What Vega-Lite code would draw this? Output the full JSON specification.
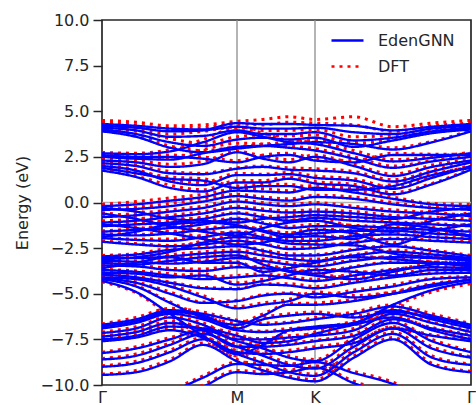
{
"$schema":"https://vega.github.io/schema/vega-lite/v6.json",
"autosize":"none","width":369,"height":365,
"padding":{"left":102,"top":20,"right":5,"bottom":20},
"background":"white",
"config":{"font":"DejaVu Sans","view":{"stroke":"#262626","strokeWidth":1.7},
"axis":{"labelFontSize":16,"titleFontSize":16,"labelColor":"#262626","titleColor":"#262626","titleFontWeight":"normal","grid":false,"domain":false,"labelFont":"DejaVu Sans","titleFont":"DejaVu Sans"},
"legend":{"labelFont":"DejaVu Sans"}},
"data":{"values":[
{"b":"T1","k":0,"g":4.3,"d":4.5},{"b":"T1","k":34,"g":4.2,"d":4.4},{"b":"T1","k":68,"g":4.05,"d":4.2},{"b":"T1","k":101,"g":4.0,"d":4.25},{"b":"T1","k":135,"g":4.35,"d":4.45},{"b":"T1","k":161,"g":4.3,"d":4.55},{"b":"T1","k":187,"g":4.3,"d":4.7},{"b":"T1","k":213,"g":4.25,"d":4.55},{"b":"T1","k":252,"g":4.2,"d":4.7},{"b":"T1","k":291,"g":3.95,"d":4.15},{"b":"T1","k":330,"g":4.15,"d":4.35},{"b":"T1","k":369,"g":4.3,"d":4.5},
{"b":"T2","k":0,"g":4.2,"d":4.4},{"b":"T2","k":34,"g":4.1,"d":4.25},{"b":"T2","k":68,"g":3.9,"d":4.05},{"b":"T2","k":101,"g":3.95,"d":4.1},{"b":"T2","k":135,"g":4.15,"d":4.3},{"b":"T2","k":161,"g":4.05,"d":4.25},{"b":"T2","k":187,"g":4.05,"d":4.4},{"b":"T2","k":213,"g":4.1,"d":4.35},{"b":"T2","k":252,"g":3.85,"d":4.25},{"b":"T2","k":291,"g":3.75,"d":3.9},{"b":"T2","k":330,"g":4.05,"d":4.2},{"b":"T2","k":369,"g":4.2,"d":4.35},
{"b":"T3","k":0,"g":4.1,"d":4.25},{"b":"T3","k":34,"g":3.95,"d":4.05},{"b":"T3","k":68,"g":3.6,"d":3.75},{"b":"T3","k":101,"g":3.65,"d":3.9},{"b":"T3","k":135,"g":3.95,"d":4.15},{"b":"T3","k":161,"g":3.75,"d":3.95},{"b":"T3","k":187,"g":3.75,"d":3.95},{"b":"T3","k":213,"g":3.85,"d":4.0},{"b":"T3","k":252,"g":3.4,"d":3.6},{"b":"T3","k":291,"g":3.55,"d":3.7},{"b":"T3","k":330,"g":3.9,"d":4.0},{"b":"T3","k":369,"g":4.1,"d":4.2},
{"b":"T4","k":0,"g":4.0,"d":4.05},{"b":"T4","k":34,"g":3.75,"d":3.9},{"b":"T4","k":68,"g":3.3,"d":3.5},{"b":"T4","k":101,"g":3.1,"d":3.25},{"b":"T4","k":135,"g":3.45,"d":3.6},{"b":"T4","k":161,"g":3.55,"d":3.7},{"b":"T4","k":187,"g":3.45,"d":3.65},{"b":"T4","k":213,"g":3.55,"d":3.7},{"b":"T4","k":252,"g":3.05,"d":3.25},{"b":"T4","k":291,"g":3.4,"d":3.45},{"b":"T4","k":330,"g":3.8,"d":3.85},{"b":"T4","k":369,"g":4.0,"d":4.05},
{"b":"C5","k":0,"g":3.9,"d":3.95},{"b":"C5","k":34,"g":3.6,"d":3.7},{"b":"C5","k":68,"g":3.0,"d":3.1},{"b":"C5","k":101,"g":2.75,"d":2.85},{"b":"C5","k":135,"g":2.95,"d":3.05},{"b":"C5","k":161,"g":3.1,"d":3.2},{"b":"C5","k":187,"g":3.2,"d":3.3},{"b":"C5","k":213,"g":3.3,"d":3.4},{"b":"C5","k":252,"g":3.2,"d":3.3},{"b":"C5","k":291,"g":2.9,"d":3.0},{"b":"C5","k":330,"g":3.3,"d":3.35},{"b":"C5","k":369,"g":3.9,"d":3.95},
{"b":"S1","k":0,"g":2.7,"d":2.75},{"b":"S1","k":34,"g":2.65,"d":2.7},{"b":"S1","k":68,"g":2.8,"d":2.9},{"b":"S1","k":101,"g":3.3,"d":3.45},{"b":"S1","k":135,"g":3.85,"d":4.1},{"b":"S1","k":161,"g":3.6,"d":3.8},{"b":"S1","k":187,"g":3.3,"d":3.4},{"b":"S1","k":213,"g":3.2,"d":3.3},{"b":"S1","k":252,"g":2.7,"d":2.85},{"b":"S1","k":291,"g":2.25,"d":2.35},{"b":"S1","k":330,"g":2.45,"d":2.5},{"b":"S1","k":369,"g":2.7,"d":2.75},
{"b":"S7","k":0,"g":2.6,"d":2.65},{"b":"S7","k":34,"g":2.5,"d":2.55},{"b":"S7","k":68,"g":2.5,"d":2.6},{"b":"S7","k":101,"g":2.4,"d":2.5},{"b":"S7","k":135,"g":2.2,"d":2.3},{"b":"S7","k":161,"g":2.5,"d":2.6},{"b":"S7","k":187,"g":2.6,"d":2.7},{"b":"S7","k":213,"g":2.3,"d":2.4},{"b":"S7","k":252,"g":2.2,"d":2.3},{"b":"S7","k":291,"g":2.6,"d":2.7},{"b":"S7","k":330,"g":2.6,"d":2.65},{"b":"S7","k":369,"g":2.6,"d":2.65},
{"b":"S2","k":0,"g":2.5,"d":2.55},{"b":"S2","k":34,"g":2.4,"d":2.45},{"b":"S2","k":68,"g":2.35,"d":2.45},{"b":"S2","k":101,"g":2.7,"d":2.9},{"b":"S2","k":135,"g":3.05,"d":3.25},{"b":"S2","k":161,"g":3.1,"d":3.2},{"b":"S2","k":187,"g":3.0,"d":3.1},{"b":"S2","k":213,"g":2.85,"d":2.95},{"b":"S2","k":252,"g":2.4,"d":2.5},{"b":"S2","k":291,"g":1.9,"d":2.0},{"b":"S2","k":330,"g":2.25,"d":2.3},{"b":"S2","k":369,"g":2.5,"d":2.55},
{"b":"S3","k":0,"g":2.3,"d":2.4},{"b":"S3","k":34,"g":2.2,"d":2.3},{"b":"S3","k":68,"g":1.95,"d":2.1},{"b":"S3","k":101,"g":2.1,"d":2.25},{"b":"S3","k":135,"g":2.75,"d":2.8},{"b":"S3","k":161,"g":2.4,"d":2.55},{"b":"S3","k":187,"g":2.2,"d":2.35},{"b":"S3","k":213,"g":2.5,"d":2.6},{"b":"S3","k":252,"g":2.0,"d":2.1},{"b":"S3","k":291,"g":1.45,"d":1.55},{"b":"S3","k":330,"g":1.95,"d":2.05},{"b":"S3","k":369,"g":2.3,"d":2.4},
{"b":"S4","k":0,"g":2.15,"d":2.2},{"b":"S4","k":34,"g":2.0,"d":2.05},{"b":"S4","k":68,"g":1.6,"d":1.7},{"b":"S4","k":101,"g":1.55,"d":1.6},{"b":"S4","k":135,"g":1.85,"d":1.9},{"b":"S4","k":161,"g":1.95,"d":2.0},{"b":"S4","k":187,"g":1.8,"d":1.9},{"b":"S4","k":213,"g":1.75,"d":1.85},{"b":"S4","k":252,"g":1.6,"d":1.7},{"b":"S4","k":291,"g":1.15,"d":1.25},{"b":"S4","k":330,"g":1.7,"d":1.75},{"b":"S4","k":369,"g":2.2,"d":2.3},
{"b":"S5","k":0,"g":2.0,"d":2.05},{"b":"S5","k":34,"g":1.75,"d":1.8},{"b":"S5","k":68,"g":1.15,"d":1.25},{"b":"S5","k":101,"g":0.95,"d":1.1},{"b":"S5","k":135,"g":1.5,"d":1.6},{"b":"S5","k":161,"g":1.5,"d":1.55},{"b":"S5","k":187,"g":1.55,"d":1.65},{"b":"S5","k":213,"g":1.35,"d":1.45},{"b":"S5","k":252,"g":1.2,"d":1.3},{"b":"S5","k":291,"g":0.75,"d":0.85},{"b":"S5","k":330,"g":1.35,"d":1.45},{"b":"S5","k":369,"g":2.0,"d":2.05},
{"b":"S8","k":0,"g":1.9,"d":1.95},{"b":"S8","k":34,"g":1.6,"d":1.7},{"b":"S8","k":68,"g":1.3,"d":1.4},{"b":"S8","k":101,"g":1.2,"d":1.3},{"b":"S8","k":135,"g":0.8,"d":0.9},{"b":"S8","k":161,"g":0.9,"d":1.0},{"b":"S8","k":187,"g":0.9,"d":1.0},{"b":"S8","k":213,"g":0.7,"d":0.8},{"b":"S8","k":252,"g":0.7,"d":0.8},{"b":"S8","k":291,"g":0.9,"d":1.0},{"b":"S8","k":330,"g":1.5,"d":1.55},{"b":"S8","k":369,"g":1.9,"d":1.95},
{"b":"S6","k":0,"g":1.75,"d":1.8},{"b":"S6","k":34,"g":1.4,"d":1.45},{"b":"S6","k":68,"g":0.8,"d":0.95},{"b":"S6","k":101,"g":0.6,"d":0.7},{"b":"S6","k":135,"g":1.1,"d":1.2},{"b":"S6","k":161,"g":1.1,"d":1.2},{"b":"S6","k":187,"g":1.3,"d":1.4},{"b":"S6","k":213,"g":1.05,"d":1.15},{"b":"S6","k":252,"g":0.9,"d":1.0},{"b":"S6","k":291,"g":0.45,"d":0.55},{"b":"S6","k":330,"g":1.0,"d":1.05},{"b":"S6","k":369,"g":1.8,"d":1.85},
{"b":"V1","k":0,"g":-0.2,"d":-0.1},{"b":"V1","k":34,"g":-0.1,"d":0.05},{"b":"V1","k":68,"g":0.1,"d":0.25},{"b":"V1","k":101,"g":0.3,"d":0.45},{"b":"V1","k":135,"g":0.65,"d":0.75},{"b":"V1","k":161,"g":0.6,"d":0.75},{"b":"V1","k":187,"g":0.55,"d":0.65},{"b":"V1","k":213,"g":0.8,"d":0.95},{"b":"V1","k":252,"g":0.55,"d":0.7},{"b":"V1","k":291,"g":0.2,"d":0.3},{"b":"V1","k":330,"g":-0.1,"d":-0.05},{"b":"V1","k":369,"g":-0.2,"d":-0.1},
{"b":"V2","k":0,"g":-0.4,"d":-0.35},{"b":"V2","k":34,"g":-0.35,"d":-0.25},{"b":"V2","k":68,"g":-0.2,"d":-0.05},{"b":"V2","k":101,"g":0.05,"d":0.2},{"b":"V2","k":135,"g":0.35,"d":0.45},{"b":"V2","k":161,"g":0.2,"d":0.3},{"b":"V2","k":187,"g":0.1,"d":0.2},{"b":"V2","k":213,"g":0.3,"d":0.4},{"b":"V2","k":252,"g":0.2,"d":0.3},{"b":"V2","k":291,"g":-0.1,"d":0.0},{"b":"V2","k":330,"g":-0.3,"d":-0.25},{"b":"V2","k":369,"g":-0.4,"d":-0.3},
{"b":"V10","k":0,"g":-0.3,"d":-0.25},{"b":"V10","k":34,"g":-0.5,"d":-0.45},{"b":"V10","k":68,"g":-0.9,"d":-0.8},{"b":"V10","k":101,"g":-1.0,"d":-0.9},{"b":"V10","k":135,"g":-1.1,"d":-1.0},{"b":"V10","k":161,"g":-0.9,"d":-0.8},{"b":"V10","k":187,"g":-0.8,"d":-0.7},{"b":"V10","k":213,"g":-0.7,"d":-0.6},{"b":"V10","k":252,"g":-0.8,"d":-0.7},{"b":"V10","k":291,"g":-0.9,"d":-0.8},{"b":"V10","k":330,"g":-0.5,"d":-0.45},{"b":"V10","k":369,"g":-0.3,"d":-0.25},
{"b":"V3","k":0,"g":-0.8,"d":-0.75},{"b":"V3","k":34,"g":-0.7,"d":-0.6},{"b":"V3","k":68,"g":-0.5,"d":-0.4},{"b":"V3","k":101,"g":-0.3,"d":-0.2},{"b":"V3","k":135,"g":0.05,"d":0.15},{"b":"V3","k":161,"g":-0.1,"d":0.0},{"b":"V3","k":187,"g":-0.2,"d":-0.1},{"b":"V3","k":213,"g":-0.1,"d":0.0},{"b":"V3","k":252,"g":-0.3,"d":-0.2},{"b":"V3","k":291,"g":-0.5,"d":-0.4},{"b":"V3","k":330,"g":-0.6,"d":-0.55},{"b":"V3","k":369,"g":-0.75,"d":-0.7},
{"b":"V4","k":0,"g":-1.1,"d":-1.0},{"b":"V4","k":34,"g":-1.0,"d":-0.9},{"b":"V4","k":68,"g":-0.8,"d":-0.7},{"b":"V4","k":101,"g":-0.6,"d":-0.5},{"b":"V4","k":135,"g":-0.3,"d":-0.2},{"b":"V4","k":161,"g":-0.45,"d":-0.35},{"b":"V4","k":187,"g":-0.55,"d":-0.45},{"b":"V4","k":213,"g":-0.5,"d":-0.4},{"b":"V4","k":252,"g":-0.6,"d":-0.5},{"b":"V4","k":291,"g":-0.8,"d":-0.7},{"b":"V4","k":330,"g":-0.9,"d":-0.8},{"b":"V4","k":369,"g":-1.0,"d":-0.9},
{"b":"V11","k":0,"g":-1.2,"d":-1.15},{"b":"V11","k":34,"g":-1.4,"d":-1.35},{"b":"V11","k":68,"g":-1.7,"d":-1.6},{"b":"V11","k":101,"g":-2.0,"d":-1.9},{"b":"V11","k":135,"g":-2.3,"d":-2.2},{"b":"V11","k":161,"g":-2.2,"d":-2.1},{"b":"V11","k":187,"g":-1.8,"d":-1.7},{"b":"V11","k":213,"g":-1.5,"d":-1.45},{"b":"V11","k":252,"g":-1.7,"d":-1.6},{"b":"V11","k":291,"g":-2.3,"d":-2.2},{"b":"V11","k":330,"g":-1.6,"d":-1.55},{"b":"V11","k":369,"g":-1.2,"d":-1.15},
{"b":"V5","k":0,"g":-1.3,"d":-1.25},{"b":"V5","k":34,"g":-1.2,"d":-1.1},{"b":"V5","k":68,"g":-1.1,"d":-1.0},{"b":"V5","k":101,"g":-0.9,"d":-0.8},{"b":"V5","k":135,"g":-0.6,"d":-0.55},{"b":"V5","k":161,"g":-0.8,"d":-0.7},{"b":"V5","k":187,"g":-1.0,"d":-0.95},{"b":"V5","k":213,"g":-0.85,"d":-0.8},{"b":"V5","k":252,"g":-1.0,"d":-0.95},{"b":"V5","k":291,"g":-1.1,"d":-1.05},{"b":"V5","k":330,"g":-1.2,"d":-1.15},{"b":"V5","k":369,"g":-1.3,"d":-1.25},
{"b":"V6","k":0,"g":-1.6,"d":-1.55},{"b":"V6","k":34,"g":-1.5,"d":-1.45},{"b":"V6","k":68,"g":-1.4,"d":-1.3},{"b":"V6","k":101,"g":-1.2,"d":-1.1},{"b":"V6","k":135,"g":-0.9,"d":-0.85},{"b":"V6","k":161,"g":-1.15,"d":-1.1},{"b":"V6","k":187,"g":-1.4,"d":-1.3},{"b":"V6","k":213,"g":-1.3,"d":-1.2},{"b":"V6","k":252,"g":-1.3,"d":-1.25},{"b":"V6","k":291,"g":-1.4,"d":-1.35},{"b":"V6","k":330,"g":-1.5,"d":-1.45},{"b":"V6","k":369,"g":-1.6,"d":-1.55},
{"b":"V7","k":0,"g":-1.75,"d":-1.7},{"b":"V7","k":34,"g":-1.8,"d":-1.75},{"b":"V7","k":68,"g":-1.7,"d":-1.6},{"b":"V7","k":101,"g":-1.5,"d":-1.4},{"b":"V7","k":135,"g":-1.35,"d":-1.3},{"b":"V7","k":161,"g":-1.55,"d":-1.5},{"b":"V7","k":187,"g":-1.75,"d":-1.65},{"b":"V7","k":213,"g":-1.7,"d":-1.6},{"b":"V7","k":252,"g":-1.55,"d":-1.5},{"b":"V7","k":291,"g":-1.55,"d":-1.5},{"b":"V7","k":330,"g":-1.7,"d":-1.65},{"b":"V7","k":369,"g":-1.8,"d":-1.75},
{"b":"V12","k":0,"g":-1.9,"d":-1.85},{"b":"V12","k":34,"g":-1.6,"d":-1.55},{"b":"V12","k":68,"g":-1.2,"d":-1.1},{"b":"V12","k":101,"g":-1.1,"d":-1.0},{"b":"V12","k":135,"g":-1.25,"d":-1.2},{"b":"V12","k":161,"g":-1.6,"d":-1.5},{"b":"V12","k":187,"g":-1.9,"d":-1.8},{"b":"V12","k":213,"g":-1.85,"d":-1.8},{"b":"V12","k":252,"g":-2.0,"d":-1.9},{"b":"V12","k":291,"g":-1.2,"d":-1.15},{"b":"V12","k":330,"g":-1.4,"d":-1.35},{"b":"V12","k":369,"g":-1.9,"d":-1.85},
{"b":"V8","k":0,"g":-1.95,"d":-1.9},{"b":"V8","k":34,"g":-2.05,"d":-2.0},{"b":"V8","k":68,"g":-2.1,"d":-2.0},{"b":"V8","k":101,"g":-1.9,"d":-1.8},{"b":"V8","k":135,"g":-1.65,"d":-1.6},{"b":"V8","k":161,"g":-1.9,"d":-1.8},{"b":"V8","k":187,"g":-2.1,"d":-2.0},{"b":"V8","k":213,"g":-2.1,"d":-2.0},{"b":"V8","k":252,"g":-1.85,"d":-1.8},{"b":"V8","k":291,"g":-1.75,"d":-1.7},{"b":"V8","k":330,"g":-1.9,"d":-1.85},{"b":"V8","k":369,"g":-2.0,"d":-1.95},
{"b":"V9","k":0,"g":-2.15,"d":-2.1},{"b":"V9","k":34,"g":-2.3,"d":-2.25},{"b":"V9","k":68,"g":-2.4,"d":-2.35},{"b":"V9","k":101,"g":-2.3,"d":-2.2},{"b":"V9","k":135,"g":-2.1,"d":-2.0},{"b":"V9","k":161,"g":-2.3,"d":-2.25},{"b":"V9","k":187,"g":-2.55,"d":-2.45},{"b":"V9","k":213,"g":-2.5,"d":-2.4},{"b":"V9","k":252,"g":-2.2,"d":-2.15},{"b":"V9","k":291,"g":-2.0,"d":-1.95},{"b":"V9","k":330,"g":-2.1,"d":-2.05},{"b":"V9","k":369,"g":-2.2,"d":-2.15},
{"b":"X1","k":0,"g":-3.1,"d":-3.05},{"b":"X1","k":34,"g":-3.0,"d":-2.95},{"b":"X1","k":68,"g":-2.7,"d":-2.6},{"b":"X1","k":101,"g":-2.2,"d":-2.1},{"b":"X1","k":135,"g":-1.9,"d":-1.85},{"b":"X1","k":161,"g":-2.0,"d":-1.95},{"b":"X1","k":187,"g":-2.25,"d":-2.2},{"b":"X1","k":213,"g":-2.3,"d":-2.25},{"b":"X1","k":252,"g":-2.35,"d":-2.3},{"b":"X1","k":291,"g":-2.8,"d":-2.75},{"b":"X1","k":330,"g":-3.0,"d":-2.95},{"b":"X1","k":369,"g":-3.1,"d":-3.05},
{"b":"X2","k":0,"g":-3.3,"d":-3.25},{"b":"X2","k":34,"g":-3.4,"d":-3.35},{"b":"X2","k":68,"g":-3.2,"d":-3.1},{"b":"X2","k":101,"g":-3.0,"d":-2.9},{"b":"X2","k":135,"g":-2.9,"d":-2.8},{"b":"X2","k":161,"g":-3.4,"d":-3.3},{"b":"X2","k":187,"g":-3.8,"d":-3.7},{"b":"X2","k":213,"g":-4.0,"d":-3.9},{"b":"X2","k":252,"g":-4.2,"d":-4.1},{"b":"X2","k":291,"g":-3.8,"d":-3.7},{"b":"X2","k":330,"g":-3.4,"d":-3.35},{"b":"X2","k":369,"g":-3.3,"d":-3.25},
{"b":"X3","k":0,"g":-0.6,"d":-0.55},{"b":"X3","k":34,"g":-0.9,"d":-0.8},{"b":"X3","k":68,"g":-1.3,"d":-1.2},{"b":"X3","k":101,"g":-1.6,"d":-1.5},{"b":"X3","k":135,"g":-1.8,"d":-1.7},{"b":"X3","k":161,"g":-1.4,"d":-1.3},{"b":"X3","k":187,"g":-1.1,"d":-1.0},{"b":"X3","k":213,"g":-1.0,"d":-0.9},{"b":"X3","k":252,"g":-1.4,"d":-1.3},{"b":"X3","k":291,"g":-1.6,"d":-1.5},{"b":"X3","k":330,"g":-1.0,"d":-0.95},{"b":"X3","k":369,"g":-0.6,"d":-0.55},
{"b":"M1","k":0,"g":-2.95,"d":-2.9},{"b":"M1","k":34,"g":-2.85,"d":-2.8},{"b":"M1","k":68,"g":-2.6,"d":-2.5},{"b":"M1","k":101,"g":-2.5,"d":-2.4},{"b":"M1","k":135,"g":-2.4,"d":-2.35},{"b":"M1","k":161,"g":-2.65,"d":-2.6},{"b":"M1","k":187,"g":-2.9,"d":-2.8},{"b":"M1","k":213,"g":-2.9,"d":-2.85},{"b":"M1","k":252,"g":-2.6,"d":-2.55},{"b":"M1","k":291,"g":-2.4,"d":-2.35},{"b":"M1","k":330,"g":-2.65,"d":-2.6},{"b":"M1","k":369,"g":-2.95,"d":-2.9},
{"b":"M2","k":0,"g":-3.05,"d":-3.0},{"b":"M2","k":34,"g":-3.05,"d":-3.0},{"b":"M2","k":68,"g":-2.95,"d":-2.85},{"b":"M2","k":101,"g":-2.8,"d":-2.7},{"b":"M2","k":135,"g":-2.7,"d":-2.6},{"b":"M2","k":161,"g":-2.9,"d":-2.8},{"b":"M2","k":187,"g":-3.1,"d":-3.0},{"b":"M2","k":213,"g":-3.2,"d":-3.1},{"b":"M2","k":252,"g":-2.9,"d":-2.85},{"b":"M2","k":291,"g":-2.7,"d":-2.6},{"b":"M2","k":330,"g":-2.85,"d":-2.8},{"b":"M2","k":369,"g":-3.05,"d":-3.0},
{"b":"M3","k":0,"g":-3.2,"d":-3.15},{"b":"M3","k":34,"g":-3.25,"d":-3.2},{"b":"M3","k":68,"g":-3.35,"d":-3.3},{"b":"M3","k":101,"g":-3.25,"d":-3.15},{"b":"M3","k":135,"g":-3.05,"d":-3.0},{"b":"M3","k":161,"g":-3.2,"d":-3.1},{"b":"M3","k":187,"g":-3.4,"d":-3.3},{"b":"M3","k":213,"g":-3.5,"d":-3.4},{"b":"M3","k":252,"g":-3.2,"d":-3.15},{"b":"M3","k":291,"g":-3.0,"d":-2.95},{"b":"M3","k":330,"g":-3.05,"d":-3.0},{"b":"M3","k":369,"g":-3.2,"d":-3.15},
{"b":"M10","k":0,"g":-3.6,"d":-3.55},{"b":"M10","k":34,"g":-3.3,"d":-3.25},{"b":"M10","k":68,"g":-3.0,"d":-2.95},{"b":"M10","k":101,"g":-3.3,"d":-3.2},{"b":"M10","k":135,"g":-3.3,"d":-3.25},{"b":"M10","k":161,"g":-3.8,"d":-3.7},{"b":"M10","k":187,"g":-3.6,"d":-3.5},{"b":"M10","k":213,"g":-3.3,"d":-3.25},{"b":"M10","k":252,"g":-3.0,"d":-2.95},{"b":"M10","k":291,"g":-3.1,"d":-3.05},{"b":"M10","k":330,"g":-3.3,"d":-3.25},{"b":"M10","k":369,"g":-3.5,"d":-3.45},
{"b":"M4","k":0,"g":-3.45,"d":-3.4},{"b":"M4","k":34,"g":-3.5,"d":-3.45},{"b":"M4","k":68,"g":-3.7,"d":-3.6},{"b":"M4","k":101,"g":-3.75,"d":-3.65},{"b":"M4","k":135,"g":-3.55,"d":-3.45},{"b":"M4","k":161,"g":-3.6,"d":-3.55},{"b":"M4","k":187,"g":-3.75,"d":-3.65},{"b":"M4","k":213,"g":-3.9,"d":-3.8},{"b":"M4","k":252,"g":-3.55,"d":-3.5},{"b":"M4","k":291,"g":-3.3,"d":-3.25},{"b":"M4","k":330,"g":-3.3,"d":-3.25},{"b":"M4","k":369,"g":-3.4,"d":-3.35},
{"b":"M5","k":0,"g":-3.7,"d":-3.65},{"b":"M5","k":34,"g":-3.8,"d":-3.75},{"b":"M5","k":68,"g":-4.0,"d":-3.9},{"b":"M5","k":101,"g":-4.2,"d":-4.1},{"b":"M5","k":135,"g":-4.1,"d":-4.0},{"b":"M5","k":161,"g":-4.0,"d":-3.9},{"b":"M5","k":187,"g":-4.15,"d":-4.05},{"b":"M5","k":213,"g":-4.3,"d":-4.2},{"b":"M5","k":252,"g":-4.0,"d":-3.9},{"b":"M5","k":291,"g":-3.7,"d":-3.65},{"b":"M5","k":330,"g":-3.55,"d":-3.5},{"b":"M5","k":369,"g":-3.6,"d":-3.55},
{"b":"M11","k":0,"g":-3.85,"d":-3.8},{"b":"M11","k":34,"g":-3.9,"d":-3.85},{"b":"M11","k":68,"g":-4.1,"d":-4.0},{"b":"M11","k":101,"g":-4.0,"d":-3.9},{"b":"M11","k":135,"g":-4.5,"d":-4.4},{"b":"M11","k":161,"g":-4.3,"d":-4.2},{"b":"M11","k":187,"g":-4.0,"d":-3.9},{"b":"M11","k":213,"g":-3.7,"d":-3.65},{"b":"M11","k":252,"g":-3.8,"d":-3.75},{"b":"M11","k":291,"g":-4.0,"d":-3.9},{"b":"M11","k":330,"g":-3.7,"d":-3.65},{"b":"M11","k":369,"g":-3.7,"d":-3.65},
{"b":"M6","k":0,"g":-3.95,"d":-3.9},{"b":"M6","k":34,"g":-4.1,"d":-4.05},{"b":"M6","k":68,"g":-4.4,"d":-4.35},{"b":"M6","k":101,"g":-4.7,"d":-4.65},{"b":"M6","k":135,"g":-4.75,"d":-4.7},{"b":"M6","k":161,"g":-4.5,"d":-4.45},{"b":"M6","k":187,"g":-4.55,"d":-4.45},{"b":"M6","k":213,"g":-4.7,"d":-4.6},{"b":"M6","k":252,"g":-4.4,"d":-4.3},{"b":"M6","k":291,"g":-4.1,"d":-4.05},{"b":"M6","k":330,"g":-3.9,"d":-3.85},{"b":"M6","k":369,"g":-3.85,"d":-3.8},
{"b":"M7","k":0,"g":-4.15,"d":-4.1},{"b":"M7","k":34,"g":-4.4,"d":-4.35},{"b":"M7","k":68,"g":-5.0,"d":-4.9},{"b":"M7","k":101,"g":-5.5,"d":-5.45},{"b":"M7","k":135,"g":-5.4,"d":-5.35},{"b":"M7","k":161,"g":-5.1,"d":-5.05},{"b":"M7","k":187,"g":-5.0,"d":-4.95},{"b":"M7","k":213,"g":-5.2,"d":-5.1},{"b":"M7","k":252,"g":-4.9,"d":-4.8},{"b":"M7","k":291,"g":-4.6,"d":-4.5},{"b":"M7","k":330,"g":-4.2,"d":-4.15},{"b":"M7","k":369,"g":-4.1,"d":-4.05},
{"b":"M12","k":0,"g":-4.1,"d":-4.05},{"b":"M12","k":34,"g":-4.2,"d":-4.15},{"b":"M12","k":68,"g":-4.6,"d":-4.5},{"b":"M12","k":101,"g":-5.2,"d":-5.1},{"b":"M12","k":135,"g":-5.8,"d":-5.7},{"b":"M12","k":161,"g":-5.6,"d":-5.5},{"b":"M12","k":187,"g":-5.4,"d":-5.3},{"b":"M12","k":213,"g":-5.0,"d":-4.9},{"b":"M12","k":252,"g":-5.2,"d":-5.1},{"b":"M12","k":291,"g":-5.0,"d":-4.9},{"b":"M12","k":330,"g":-4.6,"d":-4.55},{"b":"M12","k":369,"g":-4.2,"d":-4.15},
{"b":"M8","k":0,"g":-4.2,"d":-4.15},{"b":"M8","k":34,"g":-4.6,"d":-4.55},{"b":"M8","k":68,"g":-5.5,"d":-5.45},{"b":"M8","k":101,"g":-6.3,"d":-6.2},{"b":"M8","k":135,"g":-6.7,"d":-6.6},{"b":"M8","k":161,"g":-6.2,"d":-6.1},{"b":"M8","k":187,"g":-5.6,"d":-5.55},{"b":"M8","k":213,"g":-5.6,"d":-5.5},{"b":"M8","k":252,"g":-5.4,"d":-5.3},{"b":"M8","k":291,"g":-5.0,"d":-4.9},{"b":"M8","k":330,"g":-4.5,"d":-4.45},{"b":"M8","k":369,"g":-4.25,"d":-4.2},
{"b":"M9","k":0,"g":-4.3,"d":-4.35},{"b":"M9","k":34,"g":-4.9,"d":-4.95},{"b":"M9","k":68,"g":-6.1,"d":-6.2},{"b":"M9","k":101,"g":-7.3,"d":-7.4},{"b":"M9","k":135,"g":-8.3,"d":-8.4},{"b":"M9","k":161,"g":-7.8,"d":-7.85},{"b":"M9","k":187,"g":-7.0,"d":-7.05},{"b":"M9","k":213,"g":-6.8,"d":-6.9},{"b":"M9","k":252,"g":-6.6,"d":-6.7},{"b":"M9","k":291,"g":-5.6,"d":-5.7},{"b":"M9","k":330,"g":-4.8,"d":-4.9},{"b":"M9","k":369,"g":-4.35,"d":-4.45},
{"b":"L1","k":0,"g":-6.7,"d":-6.65},{"b":"L1","k":34,"g":-6.4,"d":-6.3},{"b":"L1","k":68,"g":-5.9,"d":-5.8},{"b":"L1","k":101,"g":-6.1,"d":-6.0},{"b":"L1","k":135,"g":-6.5,"d":-6.45},{"b":"L1","k":161,"g":-6.7,"d":-6.6},{"b":"L1","k":187,"g":-6.6,"d":-6.55},{"b":"L1","k":213,"g":-6.4,"d":-6.3},{"b":"L1","k":252,"g":-6.1,"d":-6.0},{"b":"L1","k":291,"g":-5.7,"d":-5.6},{"b":"L1","k":330,"g":-6.2,"d":-6.1},{"b":"L1","k":369,"g":-6.7,"d":-6.65},
{"b":"L10","k":0,"g":-6.8,"d":-6.75},{"b":"L10","k":34,"g":-6.5,"d":-6.45},{"b":"L10","k":68,"g":-6.0,"d":-5.9},{"b":"L10","k":101,"g":-6.2,"d":-6.1},{"b":"L10","k":135,"g":-6.9,"d":-6.8},{"b":"L10","k":161,"g":-6.4,"d":-6.3},{"b":"L10","k":187,"g":-6.2,"d":-6.1},{"b":"L10","k":213,"g":-6.1,"d":-6.0},{"b":"L10","k":252,"g":-6.3,"d":-6.2},{"b":"L10","k":291,"g":-6.0,"d":-5.9},{"b":"L10","k":330,"g":-6.3,"d":-6.25},{"b":"L10","k":369,"g":-6.8,"d":-6.75},
{"b":"L2","k":0,"g":-6.9,"d":-6.85},{"b":"L2","k":34,"g":-6.6,"d":-6.55},{"b":"L2","k":68,"g":-6.1,"d":-6.0},{"b":"L2","k":101,"g":-6.4,"d":-6.35},{"b":"L2","k":135,"g":-7.0,"d":-6.95},{"b":"L2","k":161,"g":-7.1,"d":-7.05},{"b":"L2","k":187,"g":-7.0,"d":-6.9},{"b":"L2","k":213,"g":-6.9,"d":-6.85},{"b":"L2","k":252,"g":-6.6,"d":-6.5},{"b":"L2","k":291,"g":-5.9,"d":-5.85},{"b":"L2","k":330,"g":-6.4,"d":-6.35},{"b":"L2","k":369,"g":-6.9,"d":-6.85},
{"b":"L3","k":0,"g":-7.15,"d":-7.1},{"b":"L3","k":34,"g":-6.9,"d":-6.8},{"b":"L3","k":68,"g":-6.3,"d":-6.25},{"b":"L3","k":101,"g":-6.7,"d":-6.6},{"b":"L3","k":135,"g":-7.5,"d":-7.4},{"b":"L3","k":161,"g":-7.5,"d":-7.45},{"b":"L3","k":187,"g":-7.4,"d":-7.3},{"b":"L3","k":213,"g":-7.3,"d":-7.2},{"b":"L3","k":252,"g":-7.0,"d":-6.9},{"b":"L3","k":291,"g":-6.1,"d":-6.05},{"b":"L3","k":330,"g":-6.6,"d":-6.55},{"b":"L3","k":369,"g":-7.1,"d":-7.05},
{"b":"L4","k":0,"g":-7.35,"d":-7.3},{"b":"L4","k":34,"g":-7.1,"d":-7.05},{"b":"L4","k":68,"g":-6.6,"d":-6.5},{"b":"L4","k":101,"g":-7.0,"d":-6.9},{"b":"L4","k":135,"g":-7.9,"d":-7.85},{"b":"L4","k":161,"g":-7.9,"d":-7.8},{"b":"L4","k":187,"g":-7.8,"d":-7.7},{"b":"L4","k":213,"g":-7.6,"d":-7.55},{"b":"L4","k":252,"g":-7.3,"d":-7.2},{"b":"L4","k":291,"g":-6.4,"d":-6.35},{"b":"L4","k":330,"g":-6.9,"d":-6.85},{"b":"L4","k":369,"g":-7.3,"d":-7.25},
{"b":"L11","k":0,"g":-7.5,"d":-7.45},{"b":"L11","k":34,"g":-7.3,"d":-7.2},{"b":"L11","k":68,"g":-6.8,"d":-6.7},{"b":"L11","k":101,"g":-6.9,"d":-6.8},{"b":"L11","k":135,"g":-7.3,"d":-7.2},{"b":"L11","k":161,"g":-7.7,"d":-7.6},{"b":"L11","k":187,"g":-7.6,"d":-7.5},{"b":"L11","k":213,"g":-7.2,"d":-7.1},{"b":"L11","k":252,"g":-6.7,"d":-6.6},{"b":"L11","k":291,"g":-6.3,"d":-6.2},{"b":"L11","k":330,"g":-7.0,"d":-6.95},{"b":"L11","k":369,"g":-7.5,"d":-7.45},
{"b":"L5","k":0,"g":-7.6,"d":-7.55},{"b":"L5","k":34,"g":-7.4,"d":-7.35},{"b":"L5","k":68,"g":-7.0,"d":-6.9},{"b":"L5","k":101,"g":-7.4,"d":-7.3},{"b":"L5","k":135,"g":-8.2,"d":-8.1},{"b":"L5","k":161,"g":-8.3,"d":-8.2},{"b":"L5","k":187,"g":-8.2,"d":-8.1},{"b":"L5","k":213,"g":-8.0,"d":-7.9},{"b":"L5","k":252,"g":-7.7,"d":-7.6},{"b":"L5","k":291,"g":-6.9,"d":-6.85},{"b":"L5","k":330,"g":-7.3,"d":-7.25},{"b":"L5","k":369,"g":-7.6,"d":-7.55},
{"b":"L6","k":0,"g":-8.25,"d":-8.2},{"b":"L6","k":34,"g":-8.0,"d":-7.9},{"b":"L6","k":68,"g":-7.5,"d":-7.4},{"b":"L6","k":101,"g":-7.0,"d":-6.95},{"b":"L6","k":135,"g":-7.6,"d":-7.5},{"b":"L6","k":161,"g":-8.0,"d":-7.9},{"b":"L6","k":187,"g":-8.5,"d":-8.4},{"b":"L6","k":213,"g":-8.7,"d":-8.6},{"b":"L6","k":252,"g":-7.5,"d":-7.4},{"b":"L6","k":291,"g":-6.6,"d":-6.5},{"b":"L6","k":330,"g":-7.6,"d":-7.5},{"b":"L6","k":369,"g":-8.2,"d":-8.15},
{"b":"L7","k":0,"g":-8.6,"d":-8.55},{"b":"L7","k":34,"g":-8.4,"d":-8.3},{"b":"L7","k":68,"g":-7.8,"d":-7.7},{"b":"L7","k":101,"g":-7.2,"d":-7.1},{"b":"L7","k":135,"g":-7.9,"d":-7.8},{"b":"L7","k":161,"g":-8.4,"d":-8.3},{"b":"L7","k":187,"g":-8.9,"d":-8.8},{"b":"L7","k":213,"g":-9.1,"d":-9.0},{"b":"L7","k":252,"g":-7.9,"d":-7.8},{"b":"L7","k":291,"g":-6.9,"d":-6.8},{"b":"L7","k":330,"g":-8.0,"d":-7.9},{"b":"L7","k":369,"g":-8.5,"d":-8.45},
{"b":"L8","k":0,"g":-9.0,"d":-8.95},{"b":"L8","k":34,"g":-8.8,"d":-8.7},{"b":"L8","k":68,"g":-8.2,"d":-8.1},{"b":"L8","k":101,"g":-7.5,"d":-7.4},{"b":"L8","k":135,"g":-8.3,"d":-8.2},{"b":"L8","k":161,"g":-8.8,"d":-8.7},{"b":"L8","k":187,"g":-9.3,"d":-9.2},{"b":"L8","k":213,"g":-9.5,"d":-9.4},{"b":"L8","k":252,"g":-8.2,"d":-8.1},{"b":"L8","k":291,"g":-7.2,"d":-7.1},{"b":"L8","k":330,"g":-8.5,"d":-8.4},{"b":"L8","k":369,"g":-8.9,"d":-8.85},
{"b":"L9","k":0,"g":-9.45,"d":-9.4},{"b":"L9","k":34,"g":-9.3,"d":-9.2},{"b":"L9","k":68,"g":-8.7,"d":-8.6},{"b":"L9","k":101,"g":-7.8,"d":-7.7},{"b":"L9","k":135,"g":-8.7,"d":-8.6},{"b":"L9","k":161,"g":-9.2,"d":-9.1},{"b":"L9","k":187,"g":-9.6,"d":-9.5},{"b":"L9","k":213,"g":-9.8,"d":-9.7},{"b":"L9","k":252,"g":-8.5,"d":-8.4},{"b":"L9","k":291,"g":-7.5,"d":-7.4},{"b":"L9","k":330,"g":-8.9,"d":-8.8},{"b":"L9","k":369,"g":-9.3,"d":-9.25},
{"b":"B1","k":0,"g":-11.5,"d":-11.4},{"b":"B1","k":34,"g":-11.0,"d":-10.9},{"b":"B1","k":68,"g":-10.4,"d":-10.3},{"b":"B1","k":101,"g":-9.6,"d":-9.5},{"b":"B1","k":135,"g":-8.85,"d":-8.75},{"b":"B1","k":161,"g":-8.9,"d":-8.8},{"b":"B1","k":187,"g":-8.95,"d":-8.85},{"b":"B1","k":213,"g":-8.75,"d":-8.65},{"b":"B1","k":252,"g":-9.35,"d":-9.25},{"b":"B1","k":291,"g":-9.95,"d":-9.85},{"b":"B1","k":330,"g":-11.0,"d":-10.9},{"b":"B1","k":369,"g":-12.0,"d":-11.9},
{"b":"B2","k":0,"g":-12.0,"d":-11.9},{"b":"B2","k":34,"g":-11.5,"d":-11.4},{"b":"B2","k":68,"g":-10.9,"d":-10.8},{"b":"B2","k":101,"g":-10.1,"d":-10.0},{"b":"B2","k":135,"g":-9.3,"d":-9.2},{"b":"B2","k":161,"g":-9.4,"d":-9.3},{"b":"B2","k":187,"g":-9.3,"d":-9.2},{"b":"B2","k":213,"g":-9.05,"d":-8.95},{"b":"B2","k":252,"g":-9.9,"d":-9.8},{"b":"B2","k":291,"g":-10.6,"d":-10.5},{"b":"B2","k":330,"g":-11.5,"d":-11.4},{"b":"B2","k":369,"g":-12.5,"d":-12.4}
]},
"transform":[{"fold":["g","d"],"as":["src","E"]}],
"layer":[
{"data":{"values":[{}]},"mark":{"type":"rule","color":"#b0b0b0","strokeWidth":1.5},
 "encoding":{"y":{"datum":0,"type":"quantitative","scale":{"domain":[-10,10],"nice":false,"zero":false},
   "axis":{"values":[-10,-7.5,-5,-2.5,0,2.5,5,7.5,10],"format":".1f","tickSize":9,"tickWidth":1.5,"tickColor":"#262626","labelPadding":4,"title":"Energy (eV)","titlePadding":9}}}},
{"data":{"values":[{}]},"mark":{"type":"rule","color":"#8c8c8c","strokeWidth":1.3},
 "encoding":{"x":{"datum":135,"type":"quantitative","scale":{"domain":[0,369],"nice":false,"zero":false},
   "axis":{"values":[0,135,213,369],"labelExpr":"datum.value == 135 ? 'M' : datum.value == 213 ? 'K' : 'Γ'","ticks":false,"labelPadding":4,"labelFlush":false,"labelOverlap":false,"title":null}}}},
{"data":{"values":[{}]},"mark":{"type":"rule","color":"#8c8c8c","strokeWidth":1.3},
 "encoding":{"x":{"datum":213,"type":"quantitative","scale":{"domain":[0,369],"nice":false,"zero":false},
   "axis":{"values":[0,135,213,369],"labelExpr":"datum.value == 135 ? 'M' : datum.value == 213 ? 'K' : 'Γ'","ticks":false,"labelPadding":4,"labelFlush":false,"labelOverlap":false,"title":null}}}},
{"transform":[{"filter":"datum.src == 'd'"}],
 "mark":{"type":"line","strokeWidth":3,"interpolate":"monotone","clip":true,"strokeCap":"butt"},
 "encoding":{
  "x":{"field":"k","type":"quantitative","scale":{"domain":[0,369],"nice":false,"zero":false},
       "axis":{"values":[0,135,213,369],"labelExpr":"datum.value == 135 ? 'M' : datum.value == 213 ? 'K' : 'Γ'","ticks":false,"labelPadding":4,"labelFlush":false,"labelOverlap":false,"title":null}},
  "y":{"field":"E","type":"quantitative","scale":{"domain":[-10,10],"nice":false,"zero":false},
       "axis":{"values":[-10,-7.5,-5,-2.5,0,2.5,5,7.5,10],"format":".1f","tickSize":9,"tickWidth":1.5,"tickColor":"#262626","labelPadding":4,"title":"Energy (eV)","titlePadding":9}},
  "detail":{"field":"b"},
  "color":{"field":"src","type":"nominal","scale":{"domain":["g","d"],"range":["#0000ff","#ff0000"]},
     "legend":{"title":null,"orient":"none","legendX":228,"legendY":3,"symbolType":"stroke","symbolSize":1024,"symbolStrokeWidth":2.5,"labelFontSize":16,"labelColor":"#262626","labelOffset":13,"rowPadding":-7,"padding":0,"labelExpr":"datum.label == 'g' ? 'EdenGNN' : 'DFT'"}},
  "strokeDash":{"field":"src","type":"nominal","scale":{"domain":["g","d"],"range":[[1,0],[3,5]]},
     "legend":{"title":null,"orient":"none","legendX":228,"legendY":3,"symbolType":"stroke","symbolSize":1024,"symbolStrokeWidth":2.5,"labelFontSize":16,"labelColor":"#262626","labelOffset":13,"rowPadding":-7,"padding":0,"labelExpr":"datum.label == 'g' ? 'EdenGNN' : 'DFT'"}}
 }},
{"transform":[{"filter":"datum.src == 'g'"}],
 "mark":{"type":"line","strokeWidth":2.4,"interpolate":"monotone","clip":true},
 "encoding":{
  "x":{"field":"k","type":"quantitative"},
  "y":{"field":"E","type":"quantitative"},
  "detail":{"field":"b"},
  "color":{"field":"src","type":"nominal"},
  "strokeDash":{"field":"src","type":"nominal"}
 }}
]
}
